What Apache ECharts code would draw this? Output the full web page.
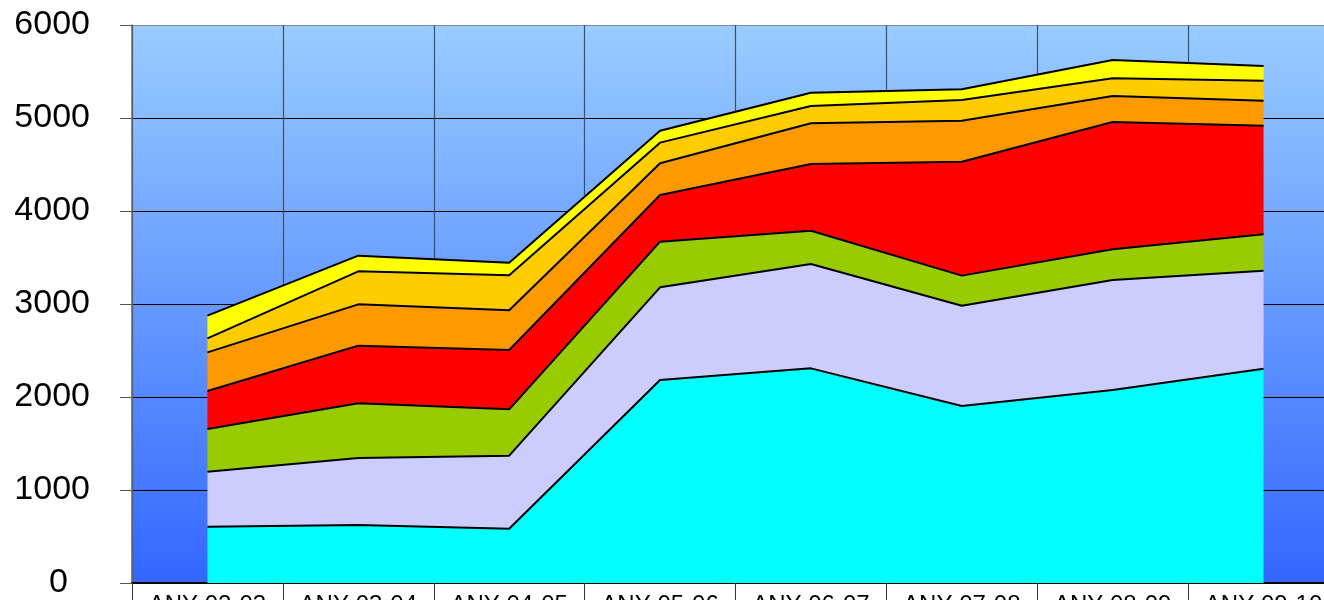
<!DOCTYPE html>
<html>
<head>
<meta charset="utf-8">
<script src="https://cdn.jsdelivr.net/npm/echarts@6/dist/echarts.min.js"></script>
<style>
html,body{margin:0;padding:0;background:#fff;}
#chart{width:1324px;height:600px;}
</style>
</head>
<body>
<div id="chart"></div>
<script>
const categories = ['ANY 02-03','ANY 03-04','ANY 04-05','ANY 05-06','ANY 06-07','ANY 07-08','ANY 08-09','ANY 09-10'];
const yTicks = [0, 1000, 2000, 3000, 4000, 5000, 6000];
const serie1 = [606, 624, 584, 2183, 2308, 1903, 2075, 2304];
const serie2 = [591, 720, 785, 996, 1122, 1079, 1183, 1054];
const serie3 = [459, 588, 498, 491, 358, 323, 330, 391];
const serie4 = [409, 620, 638, 502, 717, 1225, 1369, 1168];
const serie5 = [415, 444, 427, 341, 438, 441, 280, 269];
const serie6 = [151, 355, 376, 222, 186, 223, 190, 215];
const serie7 = [244, 169, 136, 128, 143, 114, 197, 158];

const seriesData = [serie1, serie2, serie3, serie4, serie5, serie6, serie7];
const colors = ['#00FFFF', '#CCCCFF', '#99CC00', '#FF0000', '#FF9900', '#FFCC00', '#FFFF00'];

const chart = echarts.init(document.getElementById('chart'));
chart.setOption({
  animation: false,
  grid: {
    left: 132, top: 25, width: 1207, height: 558,
    containLabel: false,
    outerBoundsMode: 'none',
    show: true, borderWidth: 0,
    backgroundColor: {
      type: 'linear', x: 0, y: 0, x2: 0, y2: 1,
      colorStops: [{offset: 0, color: '#99CCFF'}, {offset: 1, color: '#3366FF'}]
    }
  },
  xAxis: {
    type: 'category',
    data: categories,
    boundaryGap: true,
    axisLine: {show: true, lineStyle: {color: '#000', width: 2}},
    axisTick: {show: true, length: 25, lineStyle: {color: '#333', width: 1}},
    axisLabel: {fontFamily: 'Liberation Sans, Arial', fontSize: 24, color: '#000', margin: 10, interval: 0},
    splitLine: {show: true, lineStyle: {color: '#3f4f68', width: 1.2}}
  },
  yAxis: {
    type: 'value',
    min: yTicks[0], max: yTicks[yTicks.length - 1], interval: 1000,
    axisLine: {show: true, lineStyle: {color: '#666', width: 1.5}},
    axisTick: {show: true, length: 12, lineStyle: {color: '#555'}},
    axisLabel: {
      fontFamily: 'Liberation Sans, Arial', fontSize: 34, color: '#000', margin: 42,
      formatter: v => v === 0 ? '{z|0}' : String(v),
      rich: {z: {fontFamily: 'Liberation Sans, Arial', fontSize: 34, color: '#000', padding: [0, 22, 0, 0]}}
    },
    splitLine: {show: true, lineStyle: {color: ['#000','#000','#000','#000','#000','#000','#888'], width: 1}}
  },
  series: seriesData.map((d, i) => ({
    type: 'line',
    name: 'S' + (i + 1),
    stack: 'total',
    data: d,
    symbol: 'none',
    lineStyle: {color: '#000', width: 2},
    areaStyle: {color: colors[i], opacity: 1},
    itemStyle: {color: colors[i]},
    z: 2
  }))
});
</script>
</body>
</html>
